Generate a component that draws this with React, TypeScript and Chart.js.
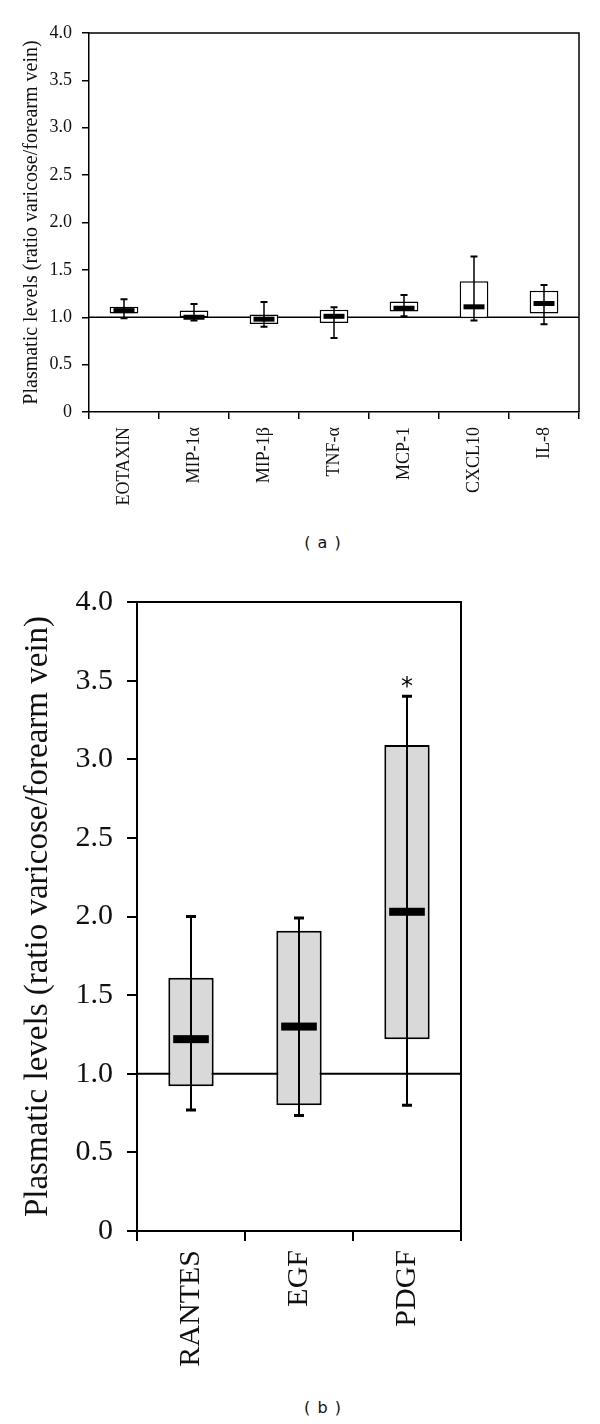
import React, { useEffect, useRef } from 'react';
import { Chart, registerables } from 'chart.js';

Chart.register(...registerables);

// ---------- DATA ----------
const topCategories = ['EOTAXIN', 'MIP-1α', 'MIP-1β', 'TNF-α', 'MCP-1', 'CXCL10', 'IL-8'];
const topQ1 = [1.04, 1.0, 0.93, 0.94, 1.06, 0.99, 1.04];
const topQ3 = [1.11, 1.07, 1.03, 1.08, 1.165, 1.38, 1.28];
const topMedian = [1.07, 1.0, 0.98, 1.01, 1.095, 1.11, 1.145];
const topLow = [0.99, 0.965, 0.9, 0.78, 1.01, 0.965, 0.925];
const topHigh = [1.19, 1.14, 1.16, 1.105, 1.235, 1.64, 1.34];
const topMarks = ['', '', '', '', '', '', ''];

const bottomCategories = ['RANTES', 'EGF', 'PDGF'];
const bottomQ1 = [0.92, 0.8, 1.22];
const bottomQ3 = [1.61, 1.91, 3.09];
const bottomMedian = [1.22, 1.3, 2.03];
const bottomLow = [0.77, 0.735, 0.8];
const bottomHigh = [2.0, 1.99, 3.4];
const bottomMarks = ['', '', '*'];

const yTickLabels = ['0', '0.5', '1.0', '1.5', '2.0', '2.5', '3.0', '3.5', '4.0'];
const referenceValue = 1.0;
const yAxisTitle = 'Plasmatic levels (ratio varicose/forearm vein)';
const panelLabels = ['( a )', '( b )'];

const SERIF = '"Liberation Serif", "Times New Roman", serif';

type PanelProps = {
  categories: string[];
  q1: number[];
  q3: number[];
  median: number[];
  low: number[];
  high: number[];
  marks: string[];
  width: number;
  height: number;
  top: number;
  plotLeft: number;
  plotRight: number;
  plotTop: number;
  plotBottom: number;
  tickFont: number;
  titleFont: number;
  titlePad: number;
  tickLen: number;
  xLabelPad: number;
  yLabelPad: number;
  axisWidth: number;
  boxBorder: number;
  boxFill: string;
  boxPct: number;
  medianPct: number;
  medianThick: number;
  whiskerWidth: number;
  capWidth: number;
  capThick: number;
  markFont: number;
};

function Panel(p: PanelProps) {
  const ref = useRef<HTMLCanvasElement | null>(null);
  useEffect(() => {
    if (!ref.current) return;
    const extras = {
      id: 'boxExtras',
      beforeDatasetsDraw(chart: any) {
        const { ctx, chartArea, scales } = chart;
        const yy = scales.y.getPixelForValue(referenceValue);
        ctx.save();
        ctx.strokeStyle = '#000';
        ctx.lineWidth = p.axisWidth;
        ctx.beginPath();
        ctx.moveTo(chartArea.left, yy);
        ctx.lineTo(chartArea.right, yy);
        ctx.stroke();
        ctx.restore();
      },
      afterDatasetsDraw(chart: any) {
        const { ctx, chartArea, scales } = chart;
        const x = scales.x;
        const y = scales.y;
        const catW = (chartArea.right - chartArea.left) / p.categories.length;
        ctx.save();
        ctx.strokeStyle = '#000';
        ctx.fillStyle = '#000';
        p.categories.forEach((_, i) => {
          const xp = Math.round(x.getPixelForValue(i));
          const yl = y.getPixelForValue(p.low[i]);
          const yh = y.getPixelForValue(p.high[i]);
          ctx.lineWidth = p.whiskerWidth;
          ctx.beginPath();
          ctx.moveTo(xp, yl);
          ctx.lineTo(xp, yh);
          ctx.stroke();
          ctx.lineWidth = p.capThick;
          ctx.beginPath();
          ctx.moveTo(xp - p.capWidth / 2, yl);
          ctx.lineTo(xp + p.capWidth / 2, yl);
          ctx.moveTo(xp - p.capWidth / 2, yh);
          ctx.lineTo(xp + p.capWidth / 2, yh);
          ctx.stroke();
          const ym = y.getPixelForValue(p.median[i]);
          const mw = catW * p.medianPct;
          ctx.fillRect(xp - mw / 2, ym - p.medianThick / 2, mw, p.medianThick);
          if (p.marks[i]) {
            ctx.font = `${p.markFont}px "DejaVu Sans", sans-serif`;
            ctx.textAlign = 'center';
            ctx.textBaseline = 'alphabetic';
            ctx.fillText(p.marks[i], xp, yh - 2);
          }
        });
        // frame top & right
        ctx.lineWidth = p.axisWidth;
        ctx.beginPath();
        ctx.moveTo(chartArea.left, chartArea.top);
        ctx.lineTo(chartArea.right, chartArea.top);
        ctx.lineTo(chartArea.right, chartArea.bottom);
        ctx.stroke();
        ctx.restore();
      },
    };
    const chart = new Chart(ref.current, {
      type: 'bar',
      data: {
        labels: p.categories,
        datasets: [
          {
            data: p.q1.map((v, i) => [v, p.q3[i]]) as any,
            backgroundColor: p.boxFill,
            borderColor: '#000',
            borderWidth: p.boxBorder,
            borderSkipped: false,
            barPercentage: p.boxPct,
            categoryPercentage: 1,
          },
        ],
      },
      options: {
        responsive: false,
        animation: false,
        devicePixelRatio: 1,
        layout: {
          padding: { left: 0, top: p.plotTop, right: p.width - p.plotRight, bottom: 0 },
        },
        plugins: { legend: { display: false }, tooltip: { enabled: false } },
        scales: {
          x: {
            type: 'category',
            offset: true,
            grid: {
              offset: true,
              drawOnChartArea: false,
              drawTicks: true,
              tickLength: p.tickLen,
              color: '#000',
              lineWidth: p.axisWidth,
            },
            border: { display: true, color: '#000', width: p.axisWidth },
            ticks: {
              autoSkip: false,
              maxRotation: 90,
              minRotation: 90,
              padding: p.xLabelPad,
              color: '#111',
              font: { family: SERIF, size: p.tickFont },
            },
            afterFit(scale: any) {
              scale.height = p.height - p.plotBottom;
            },
          },
          y: {
            min: 0,
            max: 4,
            grid: {
              drawOnChartArea: false,
              drawTicks: true,
              tickLength: p.tickLen,
              color: '#000',
              lineWidth: p.axisWidth,
            },
            border: { display: true, color: '#000', width: p.axisWidth },
            ticks: {
              stepSize: 0.5,
              padding: p.yLabelPad,
              color: '#111',
              font: { family: SERIF, size: p.tickFont },
              callback: (_v: any, idx: number) => yTickLabels[idx],
            },
            title: {
              display: true,
              text: yAxisTitle,
              color: '#111',
              font: { family: SERIF, size: p.titleFont },
              padding: { top: p.titlePad, bottom: 0 },
            },
            afterFit(scale: any) {
              scale.width = p.plotLeft;
            },
          },
        },
      },
      plugins: [extras],
    } as any);
    return () => chart.destroy();
  }, []);
  return (
    <canvas
      ref={ref}
      width={p.width}
      height={p.height}
      style={{ position: 'absolute', left: 0, top: p.top, width: p.width, height: p.height }}
    />
  );
}

export default function App() {
  return (
    <div style={{ position: 'absolute', left: 0, top: 0, width: 600, height: 1424, background: '#fff' }}>
      <Panel
        categories={topCategories}
        q1={topQ1}
        q3={topQ3}
        median={topMedian}
        low={topLow}
        high={topHigh}
        marks={topMarks}
        width={600}
        height={530}
        top={0}
        plotLeft={89}
        plotRight={579}
        plotTop={33}
        plotBottom={412}
        tickFont={18}
        titleFont={20}
        titlePad={20}
        tickLen={7}
        xLabelPad={8}
        yLabelPad={10}
        axisWidth={1.5}
        boxBorder={1.5}
        boxFill="#ffffff"
        boxPct={0.41}
        medianPct={0.3}
        medianThick={5}
        whiskerWidth={1.5}
        capWidth={7}
        capThick={2}
        markFont={20}
      />
      <Panel
        categories={bottomCategories}
        q1={bottomQ1}
        q3={bottomQ3}
        median={bottomMedian}
        low={bottomLow}
        high={bottomHigh}
        marks={bottomMarks}
        width={600}
        height={830}
        top={560}
        plotLeft={137}
        plotRight={461}
        plotTop={42}
        plotBottom={671}
        tickFont={30}
        titleFont={33}
        titlePad={19}
        tickLen={10}
        xLabelPad={9}
        yLabelPad={14}
        axisWidth={2}
        boxBorder={2}
        boxFill="#d9d9d9"
        boxPct={0.42}
        medianPct={0.33}
        medianThick={8}
        whiskerWidth={2}
        capWidth={10}
        capThick={3}
        markFont={24}
      />
      <div
        style={{
          position: 'absolute', left: 0, width: 646, top: 533, textAlign: 'center',
          font: '16px "DejaVu Sans", sans-serif', lineHeight: '20px', color: '#111', letterSpacing: '1px',
        }}
      >
        {panelLabels[0]}
      </div>
      <div
        style={{
          position: 'absolute', left: 0, width: 646, top: 1398, textAlign: 'center',
          font: '16px "DejaVu Sans", sans-serif', lineHeight: '20px', color: '#111', letterSpacing: '1px',
        }}
      >
        {panelLabels[1]}
      </div>
    </div>
  );
}
